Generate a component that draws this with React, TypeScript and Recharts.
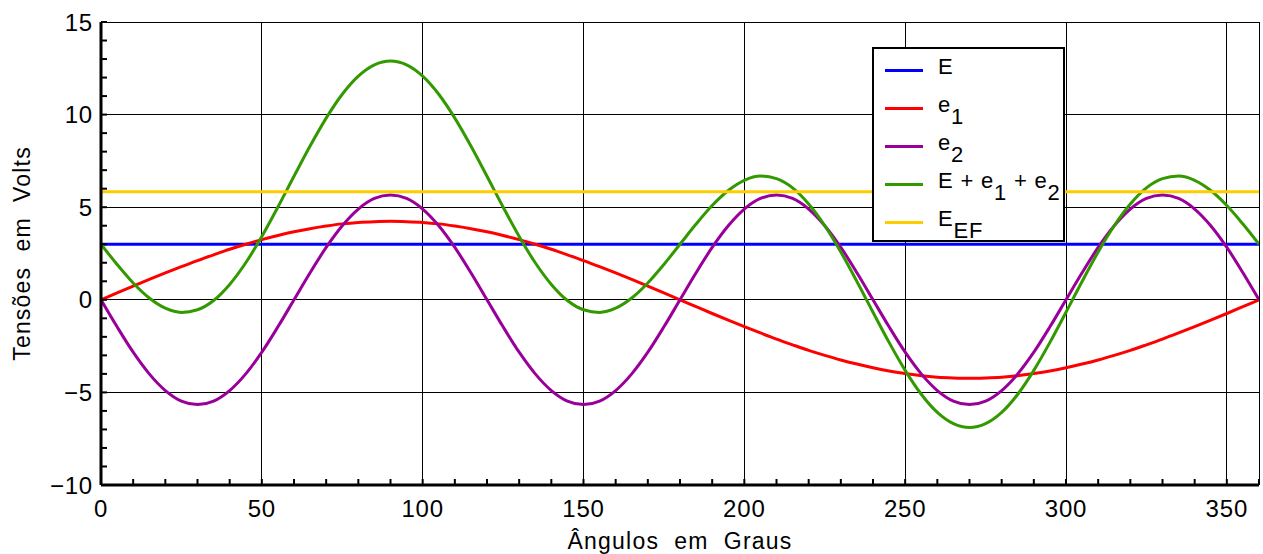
import { LineChart, Line, XAxis, YAxis, CartesianGrid, Legend } from 'recharts';

// ângulo em graus, passo de 5
const angles = [
  0, 5, 10, 15, 20, 25, 30, 35, 40, 45, 50, 55, 60, 65, 70, 75, 80, 85, 90,
  95, 100, 105, 110, 115, 120, 125, 130, 135, 140, 145, 150, 155, 160, 165, 170, 175, 180,
  185, 190, 195, 200, 205, 210, 215, 220, 225, 230, 235, 240, 245, 250, 255, 260, 265, 270,
  275, 280, 285, 290, 295, 300, 305, 310, 315, 320, 325, 330, 335, 340, 345, 350, 355, 360,
];

const eValue = 3;
const efValue = 5.83;

const e1Values = [
  0, 0.37, 0.74, 1.1, 1.45, 1.79, 2.12, 2.43, 2.73, 3.0, 3.25, 3.47, 3.67, 3.84, 3.98, 4.1, 4.18, 4.22, 4.24,
  4.22, 4.18, 4.1, 3.98, 3.84, 3.67, 3.47, 3.25, 3.0, 2.73, 2.43, 2.12, 1.79, 1.45, 1.1, 0.74, 0.37, 0,
  -0.37, -0.74, -1.1, -1.45, -1.79, -2.12, -2.43, -2.73, -3.0, -3.25, -3.47, -3.67, -3.84, -3.98, -4.1, -4.18, -4.22, -4.24,
  -4.22, -4.18, -4.1, -3.98, -3.84, -3.67, -3.47, -3.25, -3.0, -2.73, -2.43, -2.12, -1.79, -1.45, -1.1, -0.74, -0.37, 0,
];

const e2Values = [
  0, -1.46, -2.83, -4.0, -4.9, -5.47, -5.66, -5.47, -4.9, -4.0, -2.83, -1.46, 0,
  1.46, 2.83, 4.0, 4.9, 5.47, 5.66, 5.47, 4.9, 4.0, 2.83, 1.46, 0,
  -1.46, -2.83, -4.0, -4.9, -5.47, -5.66, -5.47, -4.9, -4.0, -2.83, -1.46, 0,
  1.46, 2.83, 4.0, 4.9, 5.47, 5.66, 5.47, 4.9, 4.0, 2.83, 1.46, 0,
  -1.46, -2.83, -4.0, -4.9, -5.47, -5.66, -5.47, -4.9, -4.0, -2.83, -1.46, 0,
  1.46, 2.83, 4.0, 4.9, 5.47, 5.66, 5.47, 4.9, 4.0, 2.83, 1.46, 0,
];

const sumValues = [
  3, 1.91, 0.91, 0.1, -0.45, -0.68, -0.54, -0.04, 0.83, 2.0, 3.42, 5.01, 6.67, 8.3, 9.81, 11.1, 12.08, 12.69, 12.9,
  12.69, 12.08, 11.1, 9.81, 8.3, 6.67, 5.01, 3.42, 2.0, 0.83, -0.04, -0.54, -0.68, -0.45, 0.1, 0.91, 1.91, 3,
  4.09, 5.09, 5.9, 6.45, 6.68, 6.54, 6.04, 5.17, 4.0, 2.58, 0.99, -0.67, -2.3, -3.81, -5.1, -6.08, -6.69, -6.9,
  -6.69, -6.08, -5.1, -3.81, -2.3, -0.67, 0.99, 2.58, 4.0, 5.17, 6.04, 6.54, 6.68, 6.45, 5.9, 5.09, 4.09, 3,
];

const xMajorTicks = [0, 50, 100, 150, 200, 250, 300, 350];
const xMinorTicks = [
  0, 10, 20, 30, 40, 50, 60, 70, 80, 90, 100, 110, 120, 130, 140, 150, 160, 170, 180,
  190, 200, 210, 220, 230, 240, 250, 260, 270, 280, 290, 300, 310, 320, 330, 340, 350, 360,
];
const yMajorTicks = [-10, -5, 0, 5, 10, 15];
const yMinorTicks = [
  -10, -9, -8, -7, -6, -5, -4, -3, -2, -1, 0, 1, 2, 3, 4, 5, 6, 7, 8, 9, 10, 11, 12, 13, 14, 15,
];

const data = angles.map((angle, i) => ({
  angle,
  E: eValue,
  e1: e1Values[i],
  e2: e2Values[i],
  sum: sumValues[i],
  ef: efValue,
}));

const FONT = '"Liberation Sans", Arial, Helvetica, sans-serif';
const NB = '\u00a0\u00a0';

const series = [
  { key: 'E', color: '#0000ff', label: <>E</> },
  { key: 'e1', color: '#ff0000', label: <>e<Sub>1</Sub></> },
  { key: 'e2', color: '#990099', label: <>e<Sub>2</Sub></> },
  { key: 'sum', color: '#339900', label: <>E + e<Sub>1</Sub> + e<Sub>2</Sub></> },
  { key: 'ef', color: '#ffcc00', label: <>E<Sub>EF</Sub></> },
];

function Sub({ children }: { children: React.ReactNode }) {
  return <span style={{ position: 'relative', top: 12 }}>{children}</span>;
}

function LegendBox() {
  return (
    <div
      style={{
        boxSizing: 'border-box',
        width: 193,
        height: 195,
        border: '2px solid #000',
        background: '#fff',
        paddingTop: 2,
        fontFamily: FONT,
        fontSize: 22,
        letterSpacing: 0.8,
        color: '#000',
      }}
    >
      {series.map((s) => (
        <div key={s.key} style={{ height: 38, display: 'flex', alignItems: 'center', whiteSpace: 'nowrap' }}>
          <div style={{ width: 38, height: 3, background: s.color, marginLeft: 11, marginRight: 15, flexShrink: 0 }} />
          <span style={{ position: 'relative', top: -3 }}>{s.label}</span>
        </div>
      ))}
    </div>
  );
}

const tickStyle = { fontSize: 24, fill: '#000', fontFamily: FONT, letterSpacing: 0.8 };
const titleStyle = { fontSize: 23, fill: '#000', fontFamily: FONT, letterSpacing: 1.2 };
const frame = { stroke: '#000', strokeWidth: 3 };
const minorLine = { stroke: '#000', strokeWidth: 2 };

export default function App() {
  return (
    <div style={{ width: 1263, height: 554, fontFamily: FONT }}>
      <style>{'body{margin:0}'}</style>
      <LineChart width={1263} height={554} data={data} margin={{ top: 22, right: 4, left: 0, bottom: 0 }}>
        <XAxis xAxisId="gridX" type="number" dataKey="angle" domain={[0, 360]} ticks={xMajorTicks} hide allowDataOverflow />
        <YAxis yAxisId="gridY" type="number" domain={[-10, 15]} ticks={yMajorTicks} hide allowDataOverflow />
        <CartesianGrid xAxisId="gridX" yAxisId="gridY" stroke="#000" strokeWidth={1} shapeRendering="crispEdges" />
        <XAxis
          dataKey="angle"
          type="number"
          domain={[0, 360]}
          ticks={xMinorTicks}
          interval={0}
          allowDataOverflow
          height={69}
          tickSize={-6}
          tickMargin={21}
          tickLine={minorLine}
          axisLine={frame}
          tick={tickStyle}
          tickFormatter={(v: number) => (v % 50 === 0 && v < 360 ? String(v) : '')}
          label={{
            value: `Ângulos${NB}em${NB}Graus`,
            position: 'insideBottom',
            offset: 5,
            style: titleStyle,
          }}
        />
        <YAxis
          type="number"
          domain={[-10, 15]}
          ticks={yMinorTicks}
          interval={0}
          allowDataOverflow
          width={101}
          tickSize={-6}
          tickMargin={14}
          tickLine={minorLine}
          axisLine={frame}
          tick={tickStyle}
          tickFormatter={(v: number) => (v % 5 === 0 ? String(v).replace('-', '\u2212') : '')}
          label={{
            value: `Tensões${NB}em${NB}Volts`,
            angle: -90,
            position: 'insideLeft',
            offset: 22,
            style: { ...titleStyle, textAnchor: 'middle' },
          }}
        />
        <XAxis
          xAxisId="top"
          orientation="top"
          type="number"
          domain={[0, 360]}
          ticks={xMinorTicks}
          interval={0}
          allowDataOverflow
          height={0}
          tickSize={-6}
          tickLine={minorLine}
          axisLine={frame}
          tick={false}
        />
        <YAxis
          yAxisId="right"
          orientation="right"
          type="number"
          domain={[-10, 15]}
          ticks={yMinorTicks}
          interval={0}
          allowDataOverflow
          width={0}
          tickSize={-6}
          tickLine={minorLine}
          axisLine={frame}
          tick={false}
        />
        {series.map((s) => (
          <Line
            key={s.key}
            type="monotone"
            dataKey={s.key}
            stroke={s.color}
            strokeWidth={3}
            dot={false}
            activeDot={false}
            isAnimationActive={false}
          />
        ))}
        <Legend
          layout="vertical"
          align="center"
          verticalAlign="middle"
          wrapperStyle={{ top: 47, left: 872, width: 193, height: 195 }}
          content={() => <LegendBox />}
        />
      </LineChart>
    </div>
  );
}
